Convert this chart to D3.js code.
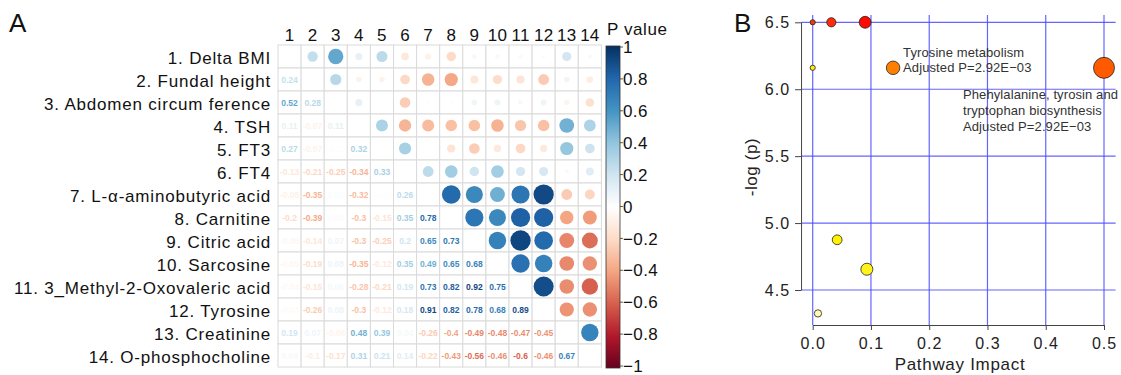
<!DOCTYPE html>
<html>
<head>
<meta charset="utf-8">
<script src="https://cdn.jsdelivr.net/npm/d3@7"></script>
<style>
  html, body { margin: 0; padding: 0; background: #fff; }
  svg { display: block; font-family: "Liberation Sans", Arial, Helvetica, sans-serif; }
</style>
</head>
<body>
<svg id="chart" width="1121" height="375"></svg>
<script>
// ---------- Panel A: correlation matrix ----------
const variables = [
  "1. Delta BMI",
  "2. Fundal height",
  "3. Abdomen circum ference",
  "4. TSH",
  "5. FT3",
  "6. FT4",
  "7. L-\u03b1-aminobutyric acid",
  "8. Carnitine",
  "9. Citric acid",
  "10. Sarcosine",
  "11. 3_Methyl-2-Oxovaleric acid",
  "12. Tyrosine",
  "13. Creatinine",
  "14. O-phosphocholine"
];

// lower triangle, row i holds correlations with variables 1..i-1
const lowerTriangle = [
  [],
  [0.24],
  [0.52, 0.28],
  [0.11, -0.07, 0.11],
  [0.27, -0.07, -0.01, 0.32],
  [-0.13, -0.21, -0.25, -0.34, 0.33],
  [-0.08, -0.35, 0.02, -0.32, 0.01, 0.26],
  [-0.2, -0.39, 0.02, -0.3, -0.15, 0.35, 0.78],
  [-0.05, -0.14, 0.07, -0.3, -0.25, 0.2, 0.65, 0.73],
  [-0.05, -0.19, 0.08, -0.35, -0.12, 0.35, 0.49, 0.65, 0.68],
  [-0.04, -0.15, 0.05, -0.28, -0.21, 0.19, 0.73, 0.82, 0.92, 0.75],
  [-0.03, -0.26, 0.08, -0.3, -0.12, 0.18, 0.91, 0.82, 0.78, 0.68, 0.89],
  [0.19, 0.07, -0.06, 0.48, 0.39, 0.04, -0.26, -0.4, -0.49, -0.48, -0.47, -0.45],
  [0.04, -0.1, -0.17, 0.31, 0.21, 0.14, -0.22, -0.43, -0.56, -0.46, -0.6, -0.46, 0.67]
];

const colorbarTicks = [1, 0.8, 0.6, 0.4, 0.2, 0, -0.2, -0.4, -0.6, -0.8, -1];

// ---------- Panel B: pathway analysis ----------
const pathwayImpact = [0.0, 0.032, 0.09, 0.0, 0.138, 0.5, 0.042, 0.093, 0.009];
const pathwayLogP   = [6.5, 6.5, 6.5, 6.16, 6.16, 6.16, 4.875, 4.655, 4.325];
const impactTicks = [0, 0.1, 0.2, 0.3, 0.4, 0.5];
const logpTicks = [4.5, 5.0, 5.5, 6.0, 6.5];
const pathwayNotes = [
  { point: 4, lines: ["Tyrosine metabolism", "Adjusted P=2.92E\u221203"] },
  { point: 5, lines: ["Phehylalanine, tyrosin and", "tryptophan biosynthesis", "Adjusted P=2.92E\u221203"] }
];

// heat colours for the pathway bubbles
const pointFills = ["#EE3A0A", "#FF2A08", "#FF0A00", "#FFE81A", "#FF8000", "#FF5A00", "#FFF200", "#FFF31A", "#FFFAB0"];

const svg = d3.select("#chart");

// ---------- draw panel A ----------
const ids = d3.range(1, 15);
const colX = d3.scaleBand().domain(ids).range([278, 601.4]);
const rowY = d3.scaleBand().domain(ids).range([45, 367]);

const rdbu = ["#67001F", "#B2182B", "#D6604D", "#F4A582", "#FDDBC7", "#FFFFFF",
              "#D1E5F0", "#92C5DE", "#4393C3", "#2166AC", "#053061"];
const corrColor = d3.scaleLinear().domain(d3.range(11).map(i => -1 + i * 0.2)).range(rdbu);
const corrRadius = d3.scaleSqrt().domain([0, 1]).range([0, 10.6]);

const corrValue = (i, j) => i > j ? lowerTriangle[i - 1][j - 1] : lowerTriangle[j - 1][i - 1];

const cells = [];
ids.forEach(i => ids.forEach(j => cells.push({ row: i, col: j, v: i === j ? null : corrValue(i, j) })));

const gA = svg.append("g");

gA.append("text").attr("x", 9).attr("y", 32)
  .attr("font-size", 26).attr("fill", "#111").text("A");

gA.selectAll("rect.cell").data(cells).join("rect")
  .attr("class", "cell")
  .attr("x", d => colX(d.col)).attr("y", d => rowY(d.row))
  .attr("width", colX.bandwidth()).attr("height", rowY.bandwidth())
  .attr("fill", "#fff").attr("stroke", "#DADADA").attr("stroke-width", 1);

// upper triangle: circles
gA.selectAll("circle.corr").data(cells.filter(d => d.col > d.row)).join("circle")
  .attr("class", "corr")
  .attr("cx", d => colX(d.col) + colX.bandwidth() / 2)
  .attr("cy", d => rowY(d.row) + rowY.bandwidth() / 2)
  .attr("r", d => corrRadius(Math.abs(d.v)))
  .attr("fill", d => corrColor(d.v));

// lower triangle: coefficients
gA.selectAll("text.coef").data(cells.filter(d => d.col < d.row)).join("text")
  .attr("class", "coef")
  .attr("x", d => colX(d.col) + colX.bandwidth() / 2)
  .attr("y", d => rowY(d.row) + rowY.bandwidth() / 2)
  .attr("dy", "0.36em")
  .attr("text-anchor", "middle")
  .attr("font-size", 8.5).attr("font-weight", "bold")
  .attr("fill", d => corrColor(d.v))
  .text(d => String(d.v));

// column numbers
gA.selectAll("text.colnum").data(ids).join("text")
  .attr("class", "colnum")
  .attr("x", d => colX(d) + colX.bandwidth() / 2)
  .attr("y", 41)
  .attr("text-anchor", "middle")
  .attr("font-size", 17).attr("letter-spacing", 0.2).attr("fill", "#111")
  .text(d => d);

// row names
gA.selectAll("text.rowname").data(ids).join("text")
  .attr("class", "rowname")
  .attr("x", 271)
  .attr("y", d => rowY(d) + rowY.bandwidth() / 2 + 1.5)
  .attr("dy", "0.36em")
  .attr("text-anchor", "end")
  .attr("font-size", 17).attr("letter-spacing", 0.8).attr("fill", "#111")
  .text(d => variables[d - 1]);

// colour legend
const barX = 606, barW = 14;
const barScale = d3.scaleLinear().domain([-1, 1]).range([366, 47]);
const grad = svg.append("defs").append("linearGradient")
  .attr("id", "corrGrad").attr("x1", 0).attr("x2", 0).attr("y1", 1).attr("y2", 0);
grad.selectAll("stop").data(rdbu).join("stop")
  .attr("offset", (d, i) => i / 10).attr("stop-color", d => d);

gA.append("rect").attr("x", barX).attr("y", 46).attr("width", barW).attr("height", 322)
  .attr("fill", "url(#corrGrad)").attr("stroke", "#333").attr("stroke-width", 0.8);

gA.selectAll("line.cbtick").data(colorbarTicks).join("line")
  .attr("class", "cbtick")
  .attr("x1", barX + barW).attr("x2", barX + barW + 3)
  .attr("y1", d => barScale(d)).attr("y2", d => barScale(d))
  .attr("stroke", "#333").attr("stroke-width", 0.8);

gA.selectAll("text.cblab").data(colorbarTicks).join("text")
  .attr("class", "cblab")
  .attr("x", barX + barW + 3)
  .attr("y", d => barScale(d))
  .attr("dy", "0.36em")
  .attr("font-size", 17).attr("letter-spacing", 0.4).attr("fill", "#111")
  .text(d => d3.format("")(d).replace("-", "\u2212"));

gA.append("text").attr("x", 607).attr("y", 35)
  .attr("font-size", 17).attr("letter-spacing", 0.6).attr("fill", "#111").text("P value");

// ---------- draw panel B ----------
const x = d3.scaleLinear().domain([0, 0.5]).range([812.7, 1104]);
const y = d3.scaleLinear().domain([4.5, 6.5]).range([290, 22.3]);
const plotLeft = x(-0.02), plotRight = x(0.52), plotTop = 15, plotBottom = 325;

const gB = svg.append("g");

gB.append("text").attr("x", 734).attr("y", 32)
  .attr("font-size", 26).attr("fill", "#111").text("B");

// grid
gB.selectAll("line.vgrid").data(impactTicks).join("line")
  .attr("class", "vgrid")
  .attr("x1", d => x(d)).attr("x2", d => x(d))
  .attr("y1", plotTop).attr("y2", plotBottom)
  .attr("stroke", "#4a4aff").attr("stroke-opacity", 0.85).attr("stroke-width", 1.2);
gB.selectAll("line.hgrid").data(logpTicks).join("line")
  .attr("class", "hgrid")
  .attr("x1", plotLeft).attr("x2", plotRight)
  .attr("y1", d => y(d)).attr("y2", d => y(d))
  .attr("stroke", "#4a4aff").attr("stroke-opacity", 0.85).attr("stroke-width", 1.2);

// axes
const yAxis = gB.append("g").attr("transform", `translate(${plotLeft},0)`)
  .call(d3.axisLeft(y).tickValues(logpTicks).tickFormat(d3.format(".1f")).tickSize(6).tickSizeOuter(0).tickPadding(5));
const xAxis = gB.append("g").attr("transform", `translate(0,${plotBottom})`)
  .call(d3.axisBottom(x).tickValues(impactTicks).tickFormat(d3.format(".1f")).tickSize(5).tickSizeOuter(0).tickPadding(8));
[yAxis, xAxis].forEach(a => {
  a.selectAll("path, line").attr("stroke", "#444");
  a.selectAll("text").attr("font-size", 16).attr("letter-spacing", 1).attr("fill", "#222")
    .attr("font-family", "'Liberation Sans', Arial, sans-serif");
});

gB.append("text")
  .attr("transform", `translate(757,167) rotate(-90)`)
  .attr("text-anchor", "middle").attr("font-size", 17).attr("letter-spacing", 0.6).attr("fill", "#222")
  .text("-log (p)");
gB.append("text")
  .attr("x", 960).attr("y", 370)
  .attr("text-anchor", "middle").attr("font-size", 17).attr("letter-spacing", 0.7).attr("fill", "#222")
  .text("Pathway Impact");

// bubbles
const bubbleR = d3.scaleSqrt().domain([0, 0.5]).range([2.6, 10.5]);
const points = pathwayImpact.map((v, i) => ({ impact: v, logp: pathwayLogP[i], fill: pointFills[i] }));
gB.selectAll("circle.pw").data(points).join("circle")
  .attr("class", "pw")
  .attr("cx", d => x(d.impact)).attr("cy", d => y(d.logp))
  .attr("r", d => bubbleR(d.impact))
  .attr("fill", d => d.fill).attr("stroke", "#222").attr("stroke-width", 0.8);

// labels for the highlighted pathways
const noteStyle = sel => sel.attr("font-size", 13).attr("letter-spacing", 0.1).attr("fill", "#333");
const n1 = pathwayNotes[0], p1 = points[n1.point];
n1.lines.forEach((t, k) => {
  gB.append("text").call(noteStyle)
    .attr("x", x(p1.impact) + 10)
    .attr("y", y(p1.logp) + (k - 1) * 15.8)
    .attr("dy", "0.36em").text(t);
});
const n2 = pathwayNotes[1], p2 = points[n2.point];
n2.lines.forEach((t, k) => {
  gB.append("text").call(noteStyle)
    .attr("x", x(p2.impact) - 141)
    .attr("y", y(p2.logp) + 26.6 + k * 15.8)
    .attr("dy", "0.36em").text(t);
});
</script>
</body>
</html>
